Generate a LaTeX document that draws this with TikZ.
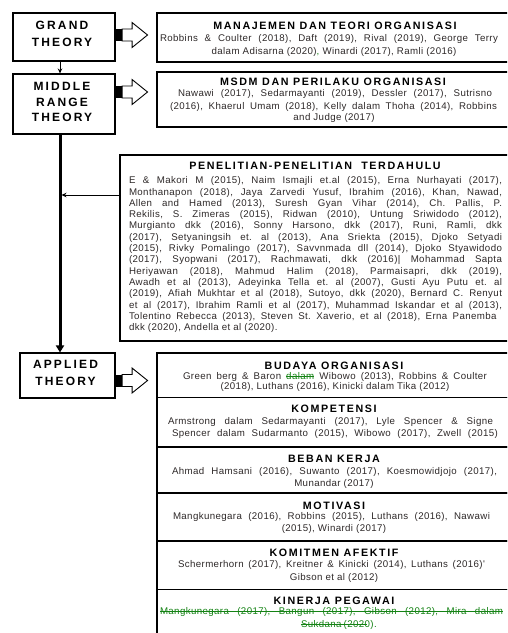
\documentclass[tikz,border=0pt]{standalone}
\usepackage{fontspec}
\setmainfont{Liberation Sans}
\newfontfamily\ttlfont[LetterSpace=15]{Liberation Sans}
\newfontfamily\ltfont[LetterSpace=18]{Liberation Sans}
\newfontfamily\bdyfont[LetterSpace=4]{Liberation Sans}
\usetikzlibrary{arrows.meta}
\definecolor{trk}{RGB}{20,130,20}
\definecolor{txt}{RGB}{45,40,40}
\newsavebox\strkbox
\newcommand\strk[1]{\sbox\strkbox{#1}\rlap{\rule[2.7pt]{\wd\strkbox}{0.6pt}}\usebox\strkbox}
\newcommand\strikeline[2]{\rlap{\color{trk}\rule[2.7pt]{#1}{0.6pt}}\makebox[#1][s]{\color{trk}#2}}
\tikzset{
  box/.style={draw=black, line width=1.1pt, rectangle, inner sep=0pt},
  ttl/.style={font={\ttlfont\bfseries\fontsize{10.7}{12}\selectfont}, anchor=base, inner sep=0pt},
  lt/.style={font={\ltfont\bfseries\fontsize{12}{14}\selectfont}, anchor=base, inner sep=0pt},
  bd/.style={font={\bdyfont\fontsize{9.7}{11}\selectfont\frenchspacing}, text=txt, anchor=base, inner sep=0pt},
  thinarr/.style={-{Stealth[length=5pt,width=4.5pt]}, line width=0.8pt},
  thickarr/.style={-{Triangle[length=7pt,width=8pt]}, line width=3pt},
  blockarr/.pic={
    \fill[black] (0,-6) rectangle (6.5,6);
    \draw[line width=0.9pt, fill=white, line join=miter] (6.5,-6) -- (16.5,-6) -- (16.5,-12.5) -- (32,0) -- (16.5,12.5) -- (16.5,6) -- (6.5,6) -- cycle;
  }
}
\begin{document}
\begin{tikzpicture}[x=1pt,y=-1pt]
\useasboundingbox (0,0) rectangle (507,633);
\clip (0,0) rectangle (507,633);
% left boxes
\node[box, minimum width=102pt, minimum height=48pt] (grand) at (64,37) {};
\node[box, minimum width=102pt, minimum height=60pt] (middle) at (64,104) {};
\node[box, minimum width=95pt, minimum height=45pt] (applied) at (67.5,375.5) {};
\node[lt] (g1) at (62,29.5) {GRAND};
\node[lt] (g2) at (62,46) {THEORY};
\node[lt] (m1) at (62,90) {MIDDLE};
\node[lt] (m2) at (62,106) {RANGE};
\node[lt] (m3) at (62,121.5) {THEORY};
\node[lt] (a1) at (65.5,368.5) {APPLIED};
\node[lt] (a2) at (65.5,385.5) {THEORY};
% right boxes
\node[box, minimum width=355pt, minimum height=49pt] (manaj) at (334.5,37.5) {};
\node[box, minimum width=355pt, minimum height=55pt] (msdm) at (334.5,99.5) {};
\node[box, minimum width=390pt, minimum height=186pt] (pen) at (315,248) {};
\node[box, minimum width=355pt, minimum height=44.5pt] (bud) at (334.5,375.25) {};
\node[box, minimum width=355pt, minimum height=49.5pt] (kom) at (334.5,422.25) {};
\node[box, minimum width=355pt, minimum height=46pt] (beb) at (334.5,470) {};
\node[box, minimum width=355pt, minimum height=48pt] (mot) at (334.5,517) {};
\node[box, minimum width=355pt, minimum height=48.5pt] (kmt) at (334.5,565.25) {};
\node[box, minimum width=355pt, minimum height=70.5pt] (kin) at (334.5,624.75) {};
% connectors
\coordinate (vx) at (60,0);
\coordinate (vxr) at (61.5,0);
\coordinate (py) at (0,195);
\draw[thinarr] (grand.south -| vx) -- (middle.north -| vx);
\draw[thickarr] (middle.south -| vx) -- (applied.north -| vx);
\draw[thinarr] (pen.west |- py) -- (vxr |- py);
\pic at ([yshift=2pt]grand.east) {blockarr};
\pic at ([yshift=12pt]middle.east) {blockarr};
\pic at ([yshift=-5pt]applied.east) {blockarr};
% manajemen
\node[ttl] (t1) at (335,29.5) {MANAJEMEN DAN TEORI ORGANISASI};
\node[bd] (t1a) at (329,41) {\makebox[338pt][s]{Robbins \& Coulter (2018), Daft (2019), Rival (2019), George Terry}};
\node[bd] (t1b) at (334,54) {dalam Adisarna (2020)\textcolor{trk}{,} Winardi (2017), Ramli (2016)};
% msdm
\node[ttl] (t2) at (333,85) {MSDM DAN PERILAKU ORGANISASI};
\node[bd] (t2a) at (335,96.3) {\makebox[314pt][s]{Nawawi (2017), Sedarmayanti (2019), Dessler (2017), Sutrisno}};
\node[bd] (t2b) at (333.5,109) {\makebox[327pt][s]{(2016), Khaerul Umam (2018), Kelly dalam Thoha (2014), Robbins}};
\node[bd] (t2c) at (334,120.7) {and Judge (2017)};
% penelitian
\node[ttl] (t3) at (315,169) {PENELITIAN-PENELITIAN\ \ TERDAHULU};
\foreach \t [count=\i] in {
 {E \& Makori M (2015), Naim Ismajli et.al (2015), Erna Nurhayati (2017),},
 {Monthanapon (2018), Jaya Zarvedi Yusuf, Ibrahim (2016), Khan, Nawad,},
 {Allen and Hamed (2013), Suresh Gyan Vihar (2014), Ch. Pallis, P.},
 {Rekilis, S. Zimeras (2015), Ridwan (2010), Untung Sriwidodo (2012),},
 {Murgianto dkk (2016), Sonny Harsono, dkk (2017), Runi, Ramli, dkk},
 {(2017), Setyaningsih et. al (2013), Ana Sriekta (2015), Djoko Setyadi},
 {(2015), Rivky Pomalingo (2017), Savvnmada dll (2014), Djoko Styawidodo},
 {(2017), Syopwani (2017), Rachmawati, dkk (2016)| Mohammad Sapta},
 {Heriyawan (2018), Mahmud Halim (2018), Parmaisapri, dkk (2019),},
 {Awadh et al (2013), Adeyinka Tella et. al (2007), Gusti Ayu Putu et. al},
 {(2019), Afiah Mukhtar et al (2018), Sutoyo, dkk (2020), Bernard C. Renyut},
 {et al (2017), Ibrahim Ramli et al (2017), Muhammad Iskandar et al (2013),},
 {Tolentino Rebecca (2013), Steven St. Xaverio, et al (2018), Erna Panemba}
}{
 \node[bd] (p\i) at (315.5,{183.7+11.3*(\i-1)}) {\makebox[373pt][s]{\t}};
}
\node[bd] (p14) at (315.5,330.6) {\makebox[373pt][l]{dkk (2020), Andella et al (2020).}};
% budaya
\node[ttl] (s1) at (334,369) {BUDAYA ORGANISASI};
\node[bd] (s1a) at (335,379.7) {\makebox[304pt][s]{Green berg \& Baron \textcolor{trk}{\strk{dalam}} Wibowo (2013), Robbins \& Coulter}};
\node[bd] (s1b) at (335,389.7) {(2018), Luthans (2016), Kinicki dalam Tika (2012)};
% kompetensi
\node[ttl] (s2) at (334,412) {KOMPETENSI};
\node[bd] (s2a) at (330.5,424.7) {\makebox[325pt][s]{Armstrong dalam Sedarmayanti (2017), Lyle Spencer \& Signe}};
\node[bd] (s2b) at (335,436) {\makebox[326pt][s]{Spencer dalam Sudarmanto (2015), Wibowo (2017), Zwell (2015)}};
% beban kerja
\node[ttl] (s3) at (334,462) {BEBAN KERJA};
\node[bd] (s3a) at (334.5,474.7) {\makebox[325pt][s]{Ahmad Hamsani (2016), Suwanto (2017), Koesmowidjojo (2017),}};
\node[bd] (s3b) at (334,486) {Munandar (2017)};
% motivasi
\node[ttl] (s4) at (334,509) {MOTIVASI};
\node[bd] (s4a) at (331.5,519.7) {\makebox[317pt][s]{Mangkunegara (2016), Robbins (2015), Luthans (2016), Nawawi}};
\node[bd] (s4b) at (334,531.3) {(2015), Winardi (2017)};
% komitmen
\node[ttl] (s5) at (334,556) {KOMITMEN AFEKTIF};
\node[bd] (s5a) at (331.5,567) {\makebox[307pt][s]{Schermerhorn (2017), Kreitner \& Kinicki (2014), Luthans (2016)'}};
\node[bd] (s5b) at (334,580.7) {Gibson et al (2012)};
% kinerja
\node[ttl] (s6) at (334,604) {KINERJA PEGAWAI};
\node[bd] (s6a) at (331.5,614.7) {\strikeline{343pt}{Mangkunegara (2017), Bangun (2017), Gibson (2012), Mira dalam}};
\node[bd] (s6b) at (334,627.3) {\strikeline{66pt}{Sukdana (2020).}};
\end{tikzpicture}
\end{document}
